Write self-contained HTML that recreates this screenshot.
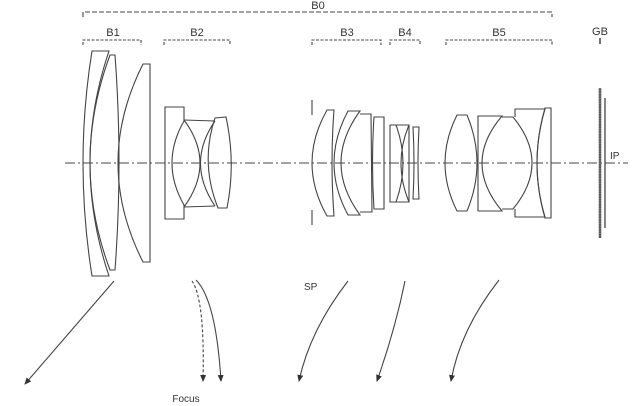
<!DOCTYPE html>
<html><head><meta charset="utf-8"><style>
html,body{margin:0;padding:0;background:#fff;}
svg{display:block;}
text{font-family:"Liberation Sans",sans-serif;fill:#333;}
</style></head><body>
<svg width="640" height="406" viewBox="0 0 640 406" xmlns="http://www.w3.org/2000/svg">
<defs>
<marker id="ah" markerWidth="8" markerHeight="8" refX="6" refY="4" orient="auto" markerUnits="userSpaceOnUse">
<path d="M0,1 L7,4 L0,7 Z" fill="#333"/>
</marker>
</defs>
<g fill="none" stroke="#444" stroke-width="1.1">
<!-- brackets -->
<path d="M83,17 V12 H552 V17" stroke-dasharray="5,2"/>
<path d="M83,45 V40 H141 V45" stroke-dasharray="3,1.5"/>
<path d="M164,45 V40 H230 V45" stroke-dasharray="3,1.5"/>
<path d="M312,45 V40 H381 V45" stroke-dasharray="3,1.5"/>
<path d="M390,45 V40 H420 V45" stroke-dasharray="3,1.5"/>
<path d="M446,45 V40 H552 V45" stroke-dasharray="3,1.5"/>
<path d="M600,38 V44" stroke-width="1.5"/>
<!-- axis -->
<path d="M65,163 H628" stroke-dasharray="10,3,2,3"/>
<!-- B1 -->
<path d="M92,51 L109,51 Q71,163 109,276 L92,276 Q74,163 92,51 Z"/>
<path d="M110,55 L115,55 Q123,163 115,270 L110,270 Q70,163 110,55 Z"/>
<path d="M143,64 L150,64 L150,262 L143,262 Q93,163 143,64 Z"/>
<!-- B2 -->
<path d="M165,107 L184,107 L184,121 Q160,163 184,205 L184,219 L165,219 Z"/>
<path d="M184,120 L215,121 M184,207 L215,206"/>
<path d="M184,120 Q216,163 184,207"/>
<path d="M215,121 Q186,163 215,206"/>
<path d="M215,118 L226,117 Q236,163 227,208 L218,208 Q200,163 215,118 Z"/>
<!-- stop -->
<path d="M312,100 V115 M312,210 V225"/>
<!-- B3 -->
<path d="M327,110 L334,110 Q330,163 334,216 L327,216 Q297,163 327,110 Z"/>
<path d="M348,111 L360,111 Q322,163 360,215 L348,215 Q320,163 348,111 Z"/>
<path d="M360,114 L371,114 L372,212 L360,212"/>
<path d="M374,117 L384,117 L384,209 L374,209 Q371,163 374,117 Z"/>
<!-- B4 -->
<path d="M390,125 L409,125 L409,202 L390,202 Z"/>
<path d="M396,125 Q410,163 396,202"/>
<path d="M409,125 Q393,163 409,202"/>
<path d="M413,127 L419,127 Q417,163 419,199 L413,199 Q415,163 413,127 Z"/>
<!-- B5 -->
<path d="M457,115 L467,115 Q487,163 467,211 L457,211 Q433,163 457,115 Z"/>
<path d="M478,116 L502,116 Q462,163 502,211 L478,211 Z"/>
<path d="M502,117 L513,117 Q551,163 513,209 L502,209"/>
<path d="M515,117 L515,109 L545,109 Q529,163 545,217 L515,217 L515,209"/>
<path d="M545,108 L551,108 L551,218 L545,218 Q529,163 545,108 Z"/>
<!-- GB -->
<path d="M600,88 V238" stroke="#555" stroke-width="2.5"/>
<path d="M600,88 V238" stroke="#999" stroke-width="1" stroke-dasharray="1,1.5"/>
<path d="M605,98 V228" stroke-width="1.3"/>
<!-- arrows -->
<path d="M114,281 L25,384" marker-end="url(#ah)"/>
<path d="M192,281 Q205,300 203,381" stroke-dasharray="3,2" marker-end="url(#ah)"/>
<path d="M196,280 Q216,300 221,381" marker-end="url(#ah)"/>
<path d="M348,281 Q310,330 299,381" marker-end="url(#ah)"/>
<path d="M405,281 Q395,330 377,381" marker-end="url(#ah)"/>
<path d="M499,280 Q460,330 451,381" marker-end="url(#ah)"/>
</g>
<g font-size="11">
<text x="318" y="9" text-anchor="middle">B0</text>
<text x="113" y="36" text-anchor="middle">B1</text>
<text x="197" y="36" text-anchor="middle">B2</text>
<text x="347" y="36" text-anchor="middle">B3</text>
<text x="405" y="36" text-anchor="middle">B4</text>
<text x="499" y="36" text-anchor="middle">B5</text>
<text x="600" y="35" text-anchor="middle">GB</text>
<text x="610" y="159" font-family="Liberation Serif" font-size="10">IP</text>
<text x="304" y="290" font-size="10">SP</text>
<text x="186" y="402" text-anchor="middle" font-size="10">Focus</text>
</g>
</svg>
</body></html>
